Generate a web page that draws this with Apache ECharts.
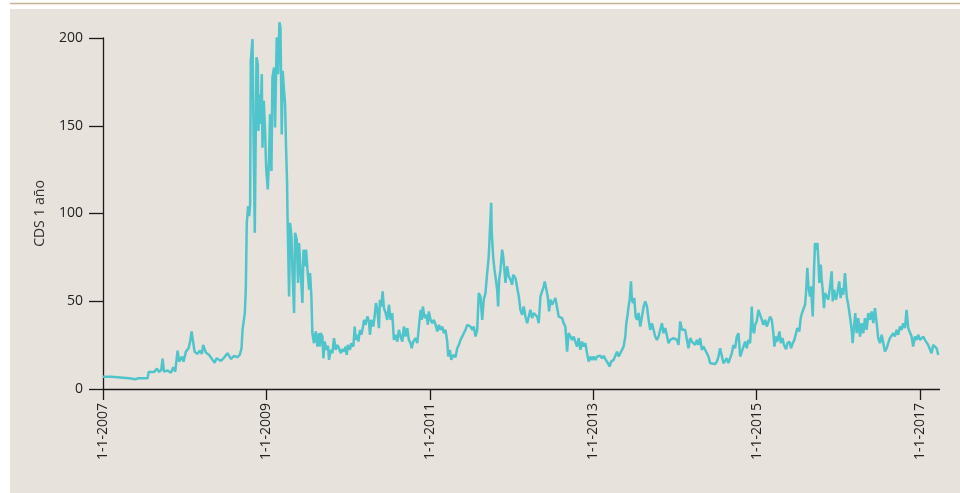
<!DOCTYPE html>
<html lang="es">
<head>
<meta charset="utf-8">
<title>CDS 1 año</title>
<script src="https://cdn.jsdelivr.net/npm/echarts@6/dist/echarts.min.js"></script>
<style>
  html, body { margin: 0; padding: 0; background: #ffffff; }
  #grafico { width: 960px; height: 493px; }
</style>
</head>
<body>
<div id="grafico"></div>
<script>
// Fechas en años decimales, valores del CDS a 1 año (puntos básicos)
const tramo2007_2008 = [
  [2007.000, 7.0], [2007.098, 7.0], [2007.118, 6.1], [2007.322, 6.1], [2007.395, 5.5], [2007.424, 6.1],
  [2007.546, 6.1], [2007.559, 9.7], [2007.627, 9.7], [2007.660, 11.6], [2007.688, 9.7], [2007.713, 10.9],
  [2007.730, 17.3], [2007.746, 9.9], [2007.791, 10.5], [2007.831, 9.3], [2007.860, 12.4], [2007.884, 9.9],
  [2007.913, 21.9], [2007.933, 15.6], [2007.966, 18.5], [2007.986, 15.6], [2008.015, 21.3], [2008.047, 23.2],
  [2008.067, 27.0], [2008.084, 32.8], [2008.104, 31.8], [2008.121, 21.3], [2008.157, 20.0], [2008.186, 21.9],
  [2008.210, 20.0], [2008.226, 25.1], [2008.259, 20.8], [2008.300, 19.4], [2008.341, 16.6], [2008.366, 15.0],
  [2008.390, 17.5], [2008.443, 16.0], [2008.483, 17.9], [2008.524, 20.4], [2008.565, 17.1], [2008.605, 18.9],
  [2008.647, 18.1], [2008.675, 19.6], [2008.696, 23.2], [2008.708, 33.7], [2008.727, 33.3], [2008.736, 43.2]
];

const tramoCrisis = [
  [2008.748, 56.6], [2008.760, 94.7], [2008.777, 104.2], [2008.789, 98.5], [2008.801, 105.0], [2008.809, 187.0],
  [2008.830, 199.4], [2008.843, 145.0], [2008.858, 89.0], [2008.879, 189.0], [2008.895, 185.0], [2008.903, 147.0],
  [2008.915, 168.0], [2008.928, 151.0], [2008.944, 179.4], [2008.952, 137.5], [2008.968, 164.2], [2008.984, 147.0],
  [2008.997, 126.1], [2009.017, 113.7], [2009.033, 131.8], [2009.045, 156.6], [2009.062, 124.2], [2009.074, 177.5],
  [2009.094, 183.2], [2009.106, 149.0], [2009.127, 200.4], [2009.143, 179.4], [2009.160, 209.0], [2009.172, 206.0],
  [2009.180, 177.5], [2009.188, 145.0], [2009.200, 181.3], [2009.213, 171.8], [2009.229, 162.3], [2009.241, 137.5],
  [2009.253, 118.5], [2009.258, 100.4], [2009.278, 52.7], [2009.290, 94.7], [2009.307, 87.0], [2009.319, 68.0],
  [2009.339, 43.3], [2009.351, 89.0], [2009.372, 85.1], [2009.388, 60.4], [2009.400, 83.2], [2009.421, 66.1],
  [2009.441, 49.0], [2009.454, 79.4], [2009.469, 69.9], [2009.486, 79.4], [2009.503, 68.0], [2009.523, 56.6],
  [2009.535, 66.1], [2009.551, 52.7], [2009.563, 31.8], [2009.583, 26.1], [2009.604, 32.8], [2009.625, 24.2],
  [2009.644, 31.8], [2009.656, 24.2]
];

const tramo2009_2010 = [
  [2009.665, 31.8], [2009.686, 29.9], [2009.698, 17.5], [2009.714, 27.0], [2009.735, 22.3], [2009.754, 24.6],
  [2009.767, 16.6], [2009.787, 22.3], [2009.808, 20.4], [2009.828, 29.0], [2009.848, 22.3], [2009.869, 25.1],
  [2009.889, 23.2], [2009.910, 20.4], [2009.930, 22.7], [2009.950, 21.3], [2009.971, 24.2], [2009.983, 19.4],
  [2009.999, 25.1], [2010.023, 22.3], [2010.040, 26.1], [2010.065, 24.2], [2010.081, 35.6], [2010.093, 28.0],
  [2010.114, 30.9], [2010.126, 27.0], [2010.146, 33.7], [2010.163, 30.9], [2010.183, 35.6], [2010.195, 39.4],
  [2010.215, 36.6], [2010.236, 41.3], [2010.256, 38.5], [2010.268, 30.9], [2010.285, 39.4], [2010.309, 35.6],
  [2010.325, 41.3], [2010.341, 49.0], [2010.358, 45.1], [2010.378, 34.7], [2010.390, 50.9], [2010.407, 47.0],
  [2010.423, 55.6], [2010.439, 46.1], [2010.460, 43.3], [2010.480, 39.4], [2010.500, 48.0], [2010.521, 39.4],
  [2010.541, 43.3], [2010.561, 28.0], [2010.582, 30.9], [2010.603, 27.0], [2010.622, 33.7], [2010.643, 29.9],
  [2010.664, 27.0], [2010.683, 35.6], [2010.704, 29.9], [2010.725, 34.7], [2010.744, 28.0], [2010.765, 26.1],
  [2010.778, 23.2], [2010.798, 27.0], [2010.826, 29.0], [2010.847, 26.1], [2010.867, 35.6], [2010.888, 45.1],
  [2010.900, 39.4], [2010.916, 47.0], [2010.936, 40.4], [2010.961, 42.3], [2010.977, 36.6], [2010.989, 44.2]
];

const tramo2011_2012 = [
  [2011.010, 39.4], [2011.031, 37.5], [2011.050, 39.4], [2011.071, 36.6], [2011.092, 32.8], [2011.112, 36.6],
  [2011.132, 33.7], [2011.153, 35.6], [2011.173, 31.8], [2011.193, 33.7], [2011.214, 27.0], [2011.226, 18.5],
  [2011.246, 22.3], [2011.263, 16.6], [2011.287, 19.4], [2011.315, 18.1], [2011.336, 23.2], [2011.356, 25.1],
  [2011.377, 28.0], [2011.397, 27.0], [2011.417, 31.8], [2011.438, 33.7], [2011.458, 36.6], [2011.478, 37.5],
  [2011.499, 35.6], [2011.520, 33.7], [2011.539, 35.6], [2011.560, 29.9], [2011.581, 33.7], [2011.600, 54.7],
  [2011.621, 52.7], [2011.642, 39.4], [2011.661, 50.9], [2011.682, 54.7], [2011.703, 66.1], [2011.722, 75.6],
  [2011.735, 89.0], [2011.752, 106.1], [2011.759, 89.0], [2011.776, 75.6], [2011.792, 68.0], [2011.804, 64.2],
  [2011.825, 56.6], [2011.837, 47.0], [2011.849, 62.3], [2011.866, 68.0], [2011.886, 79.4], [2011.899, 75.6],
  [2011.914, 68.0], [2011.927, 60.4], [2011.947, 69.9], [2011.967, 64.2], [2011.988, 62.3], [2012.009, 59.4],
  [2012.021, 65.1], [2012.049, 63.2], [2012.070, 62.3], [2012.090, 52.7], [2012.110, 45.1], [2012.131, 42.3],
  [2012.150, 47.0], [2012.171, 41.3], [2012.192, 37.5], [2012.212, 41.3], [2012.232, 45.1], [2012.253, 40.4],
  [2012.273, 43.3], [2012.293, 44.2], [2012.314, 41.3], [2012.334, 37.5], [2012.355, 52.7], [2012.375, 55.6],
  [2012.395, 58.5], [2012.407, 61.3], [2012.428, 56.6], [2012.444, 52.7], [2012.461, 44.2], [2012.477, 50.9],
  [2012.497, 48.0], [2012.517, 47.0], [2012.538, 51.8], [2012.559, 50.9], [2012.578, 41.3], [2012.599, 41.3],
  [2012.620, 40.4], [2012.639, 37.5], [2012.660, 35.6], [2012.681, 21.3], [2012.700, 31.8], [2012.721, 32.8],
  [2012.742, 28.0], [2012.762, 29.9], [2012.782, 27.0], [2012.803, 24.2], [2012.823, 29.0], [2012.844, 22.3],
  [2012.864, 27.0], [2012.884, 24.2], [2012.905, 26.1], [2012.925, 20.4], [2012.945, 15.6], [2012.966, 18.5],
  [2012.987, 16.6], [2013.006, 18.5], [2013.027, 16.6], [2013.048, 18.5], [2013.067, 19.4]
];

const tramo2013_2014 = [
  [2013.088, 18.9], [2013.109, 17.5], [2013.129, 18.9], [2013.149, 17.0], [2013.170, 15.6], [2013.190, 14.7],
  [2013.203, 12.8], [2013.219, 15.6], [2013.251, 16.6], [2013.271, 17.0], [2013.292, 21.3], [2013.312, 18.5],
  [2013.333, 19.4], [2013.353, 22.3], [2013.373, 24.2], [2013.394, 29.9], [2013.406, 37.5], [2013.422, 42.3],
  [2013.434, 47.0], [2013.447, 50.9], [2013.463, 61.3], [2013.475, 50.9], [2013.488, 49.0], [2013.504, 51.8],
  [2013.520, 41.3], [2013.537, 39.4], [2013.557, 43.3], [2013.577, 35.6], [2013.598, 41.3], [2013.618, 47.0],
  [2013.638, 49.9], [2013.659, 47.0], [2013.679, 39.4], [2013.699, 33.7], [2013.720, 37.5], [2013.740, 36.6],
  [2013.760, 29.9], [2013.781, 28.0], [2013.801, 29.9], [2013.822, 29.0], [2013.842, 37.5], [2013.862, 31.8],
  [2013.883, 34.7], [2013.903, 33.7], [2013.923, 26.1], [2013.944, 28.0], [2013.964, 27.0], [2013.984, 29.0],
  [2014.005, 29.9], [2014.026, 28.0], [2014.045, 25.1], [2014.066, 38.5], [2014.087, 33.7], [2014.106, 32.8],
  [2014.127, 33.7], [2014.148, 28.0], [2014.167, 23.2], [2014.188, 29.0], [2014.209, 27.0], [2014.228, 28.0],
  [2014.249, 25.1], [2014.270, 28.0], [2014.289, 25.1], [2014.310, 29.0], [2014.331, 22.3], [2014.351, 24.2],
  [2014.372, 23.2], [2014.392, 20.4], [2014.412, 18.5], [2014.433, 14.7], [2014.453, 13.7], [2014.494, 14.3],
  [2014.515, 15.6], [2014.534, 18.5], [2014.555, 23.2], [2014.576, 22.3], [2014.595, 14.7], [2014.616, 13.7],
  [2014.637, 17.5], [2014.656, 14.7], [2014.677, 13.7]
];

const tramo2014_2017 = [
  [2014.698, 20.4], [2014.717, 25.1], [2014.738, 23.2], [2014.759, 29.9], [2014.779, 31.8], [2014.800, 18.5],
  [2014.820, 17.5], [2014.840, 24.2], [2014.861, 27.0], [2014.881, 23.2], [2014.901, 28.0], [2014.922, 26.1],
  [2014.942, 47.0], [2014.955, 33.7], [2014.971, 31.8], [2014.983, 36.6], [2015.003, 38.5], [2015.023, 45.1],
  [2015.044, 44.2], [2015.065, 39.4], [2015.084, 36.6], [2015.105, 39.4], [2015.126, 35.6], [2015.145, 36.6],
  [2015.166, 41.3], [2015.187, 39.4], [2015.206, 31.8], [2015.219, 24.2], [2015.240, 29.9], [2015.255, 27.0],
  [2015.280, 32.8], [2015.297, 26.1], [2015.317, 29.0], [2015.337, 25.1], [2015.362, 22.7], [2015.378, 26.1],
  [2015.403, 27.0], [2015.423, 23.2], [2015.443, 26.1], [2015.463, 28.0], [2015.484, 31.8], [2015.500, 34.7],
  [2015.524, 32.8], [2015.541, 40.4], [2015.557, 43.3], [2015.574, 44.2], [2015.594, 48.0], [2015.606, 54.7],
  [2015.622, 69.0], [2015.635, 58.5], [2015.655, 52.7], [2015.667, 58.5], [2015.688, 41.3], [2015.704, 68.0],
  [2015.716, 83.2], [2015.729, 79.4], [2015.745, 83.2], [2015.757, 73.7], [2015.769, 60.4], [2015.786, 70.9],
  [2015.798, 62.3], [2015.810, 56.6], [2015.826, 46.1], [2015.839, 54.7], [2015.859, 53.7], [2015.879, 50.9],
  [2015.900, 58.5], [2015.920, 67.0], [2015.933, 49.9], [2015.949, 56.6], [2015.973, 50.9], [2015.989, 54.7],
  [2016.013, 61.3], [2016.030, 51.8], [2016.046, 57.5], [2016.062, 53.7], [2016.083, 66.1], [2016.104, 52.7],
  [2016.123, 48.0], [2016.144, 41.3], [2016.165, 33.7], [2016.177, 26.1], [2016.193, 35.6], [2016.209, 43.3],
  [2016.226, 31.8], [2016.246, 40.4], [2016.267, 29.9], [2016.287, 37.5], [2016.307, 31.8], [2016.328, 40.4],
  [2016.348, 33.7], [2016.368, 43.3], [2016.389, 39.4], [2016.409, 44.2], [2016.430, 37.5], [2016.450, 46.1],
  [2016.471, 37.5], [2016.490, 29.0], [2016.511, 26.1], [2016.532, 30.9], [2016.551, 31.8], [2016.572, 21.3],
  [2016.593, 23.2], [2016.612, 26.1], [2016.633, 29.0], [2016.654, 28.0], [2016.674, 31.8], [2016.694, 29.9],
  [2016.715, 33.7], [2016.735, 30.9], [2016.756, 35.6], [2016.776, 33.7], [2016.796, 37.5], [2016.817, 34.7],
  [2016.837, 45.1], [2016.857, 34.7], [2016.878, 33.7], [2016.898, 29.9], [2016.918, 24.2], [2016.939, 29.9],
  [2016.959, 28.0], [2016.979, 30.9], [2017.000, 28.0], [2017.020, 29.0], [2017.040, 29.9], [2017.061, 28.0],
  [2017.082, 28.0], [2017.101, 25.1], [2017.122, 24.2], [2017.143, 20.4], [2017.163, 25.1], [2017.183, 26.1],
  [2017.205, 23.2], [2017.225, 19.4]
];

// Años marcados en el eje horizontal (1 de enero)
const anosEtiqueta = [2007, 2009, 2011, 2013, 2015, 2017];
const ejeY = { min: 0, max: 200, paso: 50 };
const finSerie = 2017.24;

const serieCds = [].concat(tramo2007_2008, tramoCrisis, tramo2009_2010,
                           tramo2011_2012, tramo2013_2014, tramo2014_2017);

const fuente = "'Open Sans', 'Noto Sans', sans-serif";
const colorEje = '#1a1a1a';

const chart = echarts.init(document.getElementById('grafico'), null, { renderer: 'canvas' });

chart.setOption({
  animation: false,
  backgroundColor: '#ffffff',
  textStyle: { fontFamily: fuente },
  graphic: [
    // fondo beige del panel
    { type: 'rect', z: -10, silent: true,
      shape: { x: 10, y: 9, width: 950, height: 484 },
      style: { fill: '#e8e2dc' } },
    // filete superior
    { type: 'line', z: -10, silent: true,
      shape: { x1: 10, y1: 3.5, x2: 960, y2: 3.5 },
      style: { stroke: '#c4b595', lineWidth: 1.5 } }
  ],
  grid: { left: 103, right: 20.5, top: 38, bottom: 104, containLabel: false },
  xAxis: {
    type: 'value',
    min: anosEtiqueta[0],
    max: finSerie,
    interval: 2,
    axisLine: { show: true, onZero: false, lineStyle: { color: colorEje, width: 1.3 } },
    axisTick: { show: true, length: 11, lineStyle: { color: colorEje, width: 1.3 } },
    axisLabel: {
      rotate: 90, margin: 14, fontSize: 14, color: '#222', fontFamily: fuente,
      showMaxLabel: false,
      formatter: v => anosEtiqueta.includes(Math.round(v)) ? '1-1-' + Math.round(v) : ''
    },
    splitLine: { show: false }
  },
  yAxis: {
    type: 'value',
    min: ejeY.min, max: ejeY.max, interval: ejeY.paso,
    name: 'CDS 1 año',
    nameLocation: 'middle',
    nameGap: 56,
    nameTextStyle: { fontSize: 14, color: '#333', fontFamily: fuente },
    axisLine: { show: true, lineStyle: { color: colorEje, width: 1.3 } },
    axisTick: { show: true, length: 14, lineStyle: { color: colorEje, width: 1.3 } },
    axisLabel: { fontSize: 14, color: '#222', margin: 20, fontFamily: fuente },
    splitLine: { show: false }
  },
  series: [{
    type: 'line',
    data: serieCds,
    showSymbol: false,
    smooth: false,
    clip: false,
    lineStyle: { color: '#4fc4cb', width: 2.5 },
    z: 3
  }]
});
</script>
</body>
</html>
